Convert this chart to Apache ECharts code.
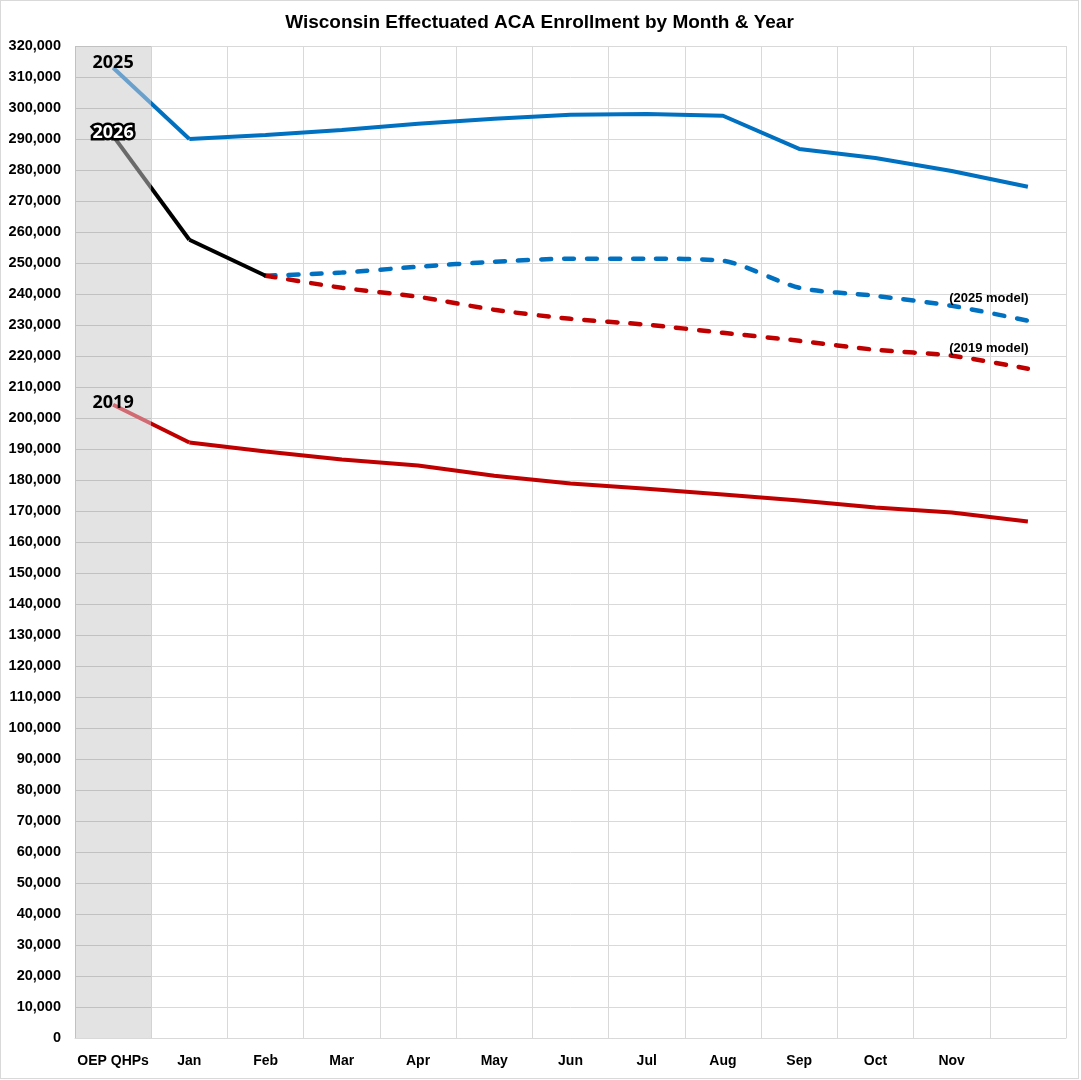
<!DOCTYPE html>
<html>
<head>
<meta charset="utf-8">
<script src="https://cdn.jsdelivr.net/npm/echarts@6/dist/echarts.min.js"></script>
<style>
  body { margin: 0; background: #fff; }
  #main { width: 1077px; height: 1077px; border: 1px solid #d9d9d9; }
</style>
</head>
<body>
<div id="main"></div>
<script>
'use strict'

// month labels (last band = Dec, left unlabelled like the original)
const months = ['OEP QHPs', 'Jan', 'Feb', 'Mar', 'Apr', 'May', 'Jun', 'Jul', 'Aug', 'Sep', 'Oct', 'Nov', ''];

// enrollment
const y2025 = [313000, 290000, 291300, 292900, 294900, 296500, 297800, 298100, 297500, 286800, 283900, 279700, 274600];
const y2026 = [291000, 257500, 245900];
const y2019 = [204300, 192100, 189200, 186600, 184700, 181400, 178900, 177200, 175300, 173400, 171100, 169500, 166600];
const model2025 = [null, null, 245900, 246900, 248800, 250400, 251400, 251400, 250700, 242000, 239400, 236200, 231400];
const model2019 = [null, null, 245900, 242000, 239100, 234900, 232000, 230100, 227500, 224900, 222000, 220100, 215900];

const FONT = 'Liberation Sans';

// the line from OEP to Jan is faded inside the grey band
function oepPart(arr) {
  return months.map((m, i) => (i < 2 ? arr[i] : null));
}
function restPart(arr) {
  return months.map((m, i) => (i >= 1 && i < arr.length ? arr[i] : null));
}
function fade(light, full) {
  return new echarts.graphic.LinearGradient(0, 0, 1, 0, [
    { offset: 0, color: light },
    { offset: 0.5, color: light },
    { offset: 0.5, color: full },
    { offset: 1, color: full }
  ]);
}

function yearLabel(text, outlined, dist) {
  return {
    show: true,
    position: 'top',
    distance: dist,
    formatter: text,
    fontFamily: 'Open Sans',
    fontWeight: 'bold',
    fontSize: 18,
    color: outlined ? '#fff' : '#000',
    textBorderColor: outlined ? '#000' : 'transparent',
    textBorderWidth: outlined ? 5 : 0
  };
}

function oepSeries(name, arr, light, full, text, outlined, dist) {
  let data = oepPart(arr).map((v, i) => {
    if (i === 0) {
      return { value: v, label: yearLabel(text, outlined, dist), symbol: 'circle', symbolSize: 1 };
    }
    return v;
  });
  return {
    name: name,
    type: 'line',
    data: data,
    symbol: 'none',
    showSymbol: true,
    lineStyle: { width: 4, color: fade(light, full) },
    itemStyle: { color: light },
    z: 3,
    silent: true
  };
}

function modelSeries(name, arr, color, text) {
  let data = arr.map((v, i) => {
    if (i === 11) {
      return {
        value: v,
        symbol: 'circle',
        symbolSize: 1,
        label: {
          show: true,
          position: 'right',
          distance: 0,
          offset: [-3, -7],
          formatter: text,
          fontFamily: FONT,
          fontWeight: 'bold',
          fontSize: 13,
          color: '#000'
        }
      };
    }
    return v;
  });
  return {
    name: name,
    type: 'line',
    data: data,
    symbol: 'none',
    smooth: 0.25,
    lineStyle: { width: 4.5, type: [10, 13], color: color, cap: 'round' },
    itemStyle: { color: color },
    z: 4,
    silent: true
  };
}

var myChart = echarts.init(document.getElementById('main'));

var option = {
  animation: false,
  title: {
    text: 'Wisconsin Effectuated ACA Enrollment by Month & Year',
    left: 'center',
    top: 7,
    textStyle: { fontFamily: FONT, fontWeight: 'bold', fontSize: 19, color: '#000' }
  },
  grid: { left: 74, right: 12, top: 45, bottom: 40 },
  xAxis: {
    type: 'category',
    data: months,
    boundaryGap: true,
    axisLine: { lineStyle: { color: '#d9d9d9' } },
    axisTick: { show: false },
    splitLine: { show: true, lineStyle: { color: '#d9d9d9' } },
    axisLabel: {
      interval: 0,
      margin: 16,
      fontFamily: FONT,
      fontWeight: 'bold',
      fontSize: 14,
      color: '#000'
    }
  },
  yAxis: {
    type: 'value',
    min: 0,
    max: 320000,
    interval: 10000,
    axisLine: { show: false },
    axisTick: { show: false },
    splitLine: { lineStyle: { color: '#d9d9d9' } },
    axisLabel: {
      margin: 14,
      fontFamily: FONT,
      fontWeight: 'bold',
      fontSize: 14.5,
      color: '#000',
      formatter: v => v.toLocaleString('en-US')
    }
  },
  series: []
};

// grey OEP band
option.series.push({
  name: 'band',
  type: 'bar',
  data: months.map((m, i) => (i === 0 ? 320000 : null)),
  barWidth: '100%',
  itemStyle: { color: 'rgba(0,0,0,0.11)' },
  z: 1,
  silent: true
});

option.series.push(modelSeries('2025 model', model2025, '#0070c0', '(2025 model)'));
option.series.push(modelSeries('2019 model', model2019, '#c00000', '(2019 model)'));

option.series.push({
  name: '2025', type: 'line', data: restPart(y2025), symbol: 'none',
  lineStyle: { width: 4, color: '#0070c0' }, z: 3, silent: true
});
option.series.push({
  name: '2019', type: 'line', data: restPart(y2019), symbol: 'none',
  lineStyle: { width: 4, color: '#c00000' }, z: 3, silent: true
});
option.series.push({
  name: '2026', type: 'line', data: restPart(y2026), symbol: 'none',
  lineStyle: { width: 4, color: '#000' }, z: 5, silent: true
});

option.series.push(oepSeries('2025 OEP', y2025, '#6aa0cc', '#0070c0', '2025', false, -5));
option.series.push(oepSeries('2019 OEP', y2019, '#d26a72', '#c00000', '2019', false, -8));
option.series.push(oepSeries('2026 OEP', y2026, '#6a6a6a', '#000000', '2026', true, -6));

myChart.setOption(option);
</script>
</body>
</html>
